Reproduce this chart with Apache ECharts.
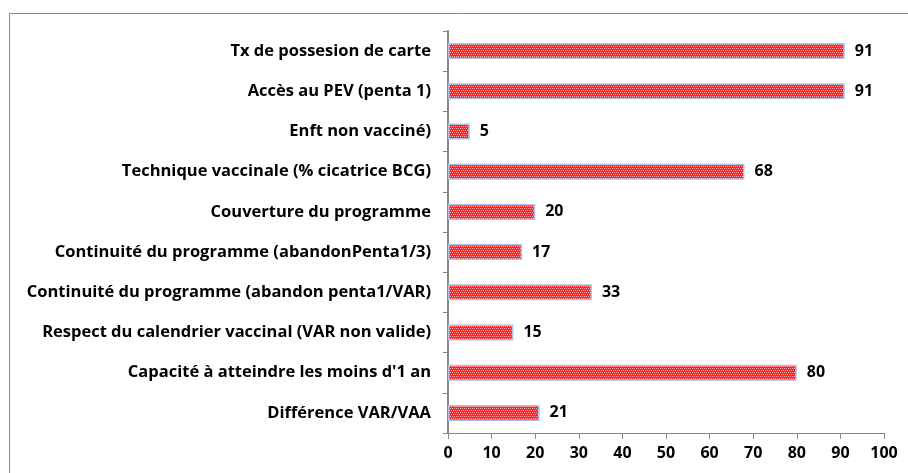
<!DOCTYPE html>
<html>
<head>
<meta charset="utf-8">
<script src="https://cdn.jsdelivr.net/npm/echarts@6/dist/echarts.min.js"></script>
<style>
html, body { margin: 0; padding: 0; background: #fff; }
#chart { width: 908px; height: 473px; }
</style>
</head>
<body>
<div id="chart"></div>
<script>
var categories = [
	'Tx de possesion de carte',
	'Accès au PEV (penta 1)',
	'Enft non vacciné)',
	'Technique vaccinale (% cicatrice BCG)',
	'Couverture du programme',
	'Continuité du programme (abandonPenta1/3)',
	'Continuité du programme (abandon penta1/VAR)',
	'Respect du calendrier vaccinal (VAR non valide)',
	"Capacité à atteindre les moins d'1 an",
	'Différence VAR/VAA'
];
var values = [ 91, 91, 5, 68, 20, 17, 33, 15, 80, 21 ];
var xTicks = [ 0, 10, 20, 30, 40, 50, 60, 70, 80, 90, 100 ];

// petit motif rouge pointillé
function makePattern() {
	var c = document.createElement('canvas');
	c.width = 4;
	c.height = 4;
	var g = c.getContext('2d');
	g.fillStyle = '#ff2020';
	g.fillRect(0, 0, 4, 4);
	g.fillStyle = '#ffa8a8';
	g.fillRect(0, 0, 1, 1);
	g.fillRect(2, 0, 1, 1);
	g.fillRect(1, 2, 1, 1);
	g.fillRect(3, 2, 1, 1);
	return c;
}

var chart = echarts.init(document.getElementById('chart'));
var font = '"Open Sans", sans-serif';
var option = {
	animation : false,
	graphic : [ {
		type : 'rect',
		shape : { x : 9.5, y : 13.5, width : 1000, height : 1000 },
		style : { fill : 'none', stroke : '#888', lineWidth : 1 },
		silent : true
	} ],
	grid : {
		left : 448,
		right : 24,
		top : 31,
		bottom : 40
	},
	xAxis : {
		type : 'value',
		min : xTicks[0],
		max : xTicks[xTicks.length - 1],
		interval : 10,
		splitLine : { show : false },
		axisLine : { show : true, lineStyle : { color : '#888', width : 1 } },
		axisTick : { show : true, length : 6, lineStyle : { color : '#888' } },
		axisLabel : {
			color : '#000',
			fontFamily : font,
			fontWeight : 'bold',
			fontSize : 16,
			margin : 12
		}
	},
	yAxis : {
		type : 'category',
		inverse : true,
		data : categories,
		axisLine : { show : true, lineStyle : { color : '#888', width : 2 } },
		axisTick : { show : true, length : 5, lineStyle : { color : '#888' } },
		axisLabel : {
			color : '#000',
			fontFamily : font,
			fontWeight : 'bold',
			fontSize : 16.5,
			margin : 17
		}
	},
	series : [ {
		type : 'bar',
		data : values,
		barWidth : 16,
		itemStyle : {
			color : { image : makePattern(), repeat : 'repeat' },
			borderColor : '#a9c3ec',
			borderWidth : 1.5
		},
		label : {
			show : true,
			position : 'right',
			distance : 10,
			color : '#000',
			fontFamily : font,
			fontWeight : 'bold',
			fontSize : 16
		}
	} ]
};
chart.setOption(option);
</script>
</body>
</html>
